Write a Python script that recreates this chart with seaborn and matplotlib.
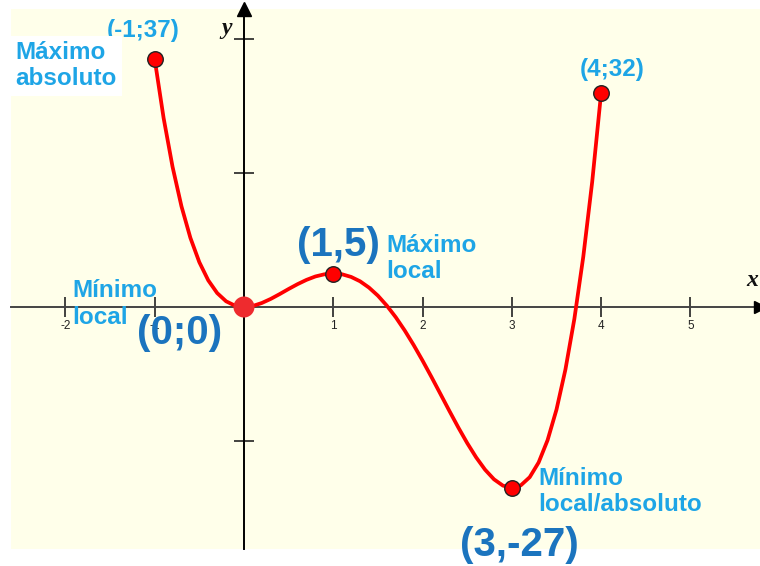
import matplotlib
matplotlib.use("Agg")
import matplotlib.pyplot as plt
import seaborn as sns
import pandas as pd

# f(x) = 3x^4 - 16x^3 + 18x^2 sampled every 0.1 on [-1, 4]
curve_x = [-1.0, -0.9, -0.8, -0.7, -0.6, -0.5, -0.4, -0.3, -0.2, -0.1,
           0.0, 0.1, 0.2, 0.3, 0.4, 0.5, 0.6, 0.7, 0.8, 0.9,
           1.0, 1.1, 1.2, 1.3, 1.4, 1.5, 1.6, 1.7, 1.8, 1.9,
           2.0, 2.1, 2.2, 2.3, 2.4, 2.5, 2.6, 2.7, 2.8, 2.9,
           3.0, 3.1, 3.2, 3.3, 3.4, 3.5, 3.6, 3.7, 3.8, 3.9, 4.0]
curve_y = [37.0, 28.21, 20.94, 15.03, 10.32, 6.69, 3.98, 2.08, 0.85, 0.20,
           0.0, 0.16, 0.60, 1.21, 1.93, 2.69, 3.41, 4.05, 4.56, 4.88,
           5.0, 4.88, 4.49, 3.84, 2.90, 1.69, 0.20, -1.53, -3.50, -5.67,
           -8.0, -10.45, -12.97, -15.50, -17.97, -20.31, -22.44, -24.28, -25.72, -26.66,
           -27.0, -26.62, -25.40, -23.20, -19.88, -15.31, -9.33, -1.78, 7.51, 18.71, 32.0]

# extremes of the function
pt_x = [-1, 1, 3, 4]
pt_y = [37, 5, -27, 32]
origin_x = [0]
origin_y = [0]

tick_vals = [-2, -1, 1, 2, 3, 4, 5]
tick_text = ["-2", "-1", "1", "2", "3", "4", "5"]
ytick_vals = [-20, 20, 40]

LIGHT = "#1EA5E6"
DARK = "#1B74BE"
CREAM = "#FFFFEA"

sns.set_theme(style="white")
plt.rcParams["font.family"] = ["Liberation Sans", "DejaVu Sans"]

fig = plt.figure(figsize=(7.6, 5.66), dpi=100)
fig.patch.set_facecolor("white")
ax = fig.add_axes([11 / 760, 17 / 566, 749 / 760, 540 / 566])
ax.set_facecolor(CREAM)

curve = pd.DataFrame({"x": curve_x, "y": curve_y})
sns.lineplot(data=curve, x="x", y="y", ax=ax, color="#FF0000", lw=2.7,
             sort=False, zorder=3)

pts = pd.DataFrame({"x": pt_x, "y": pt_y})
sns.scatterplot(data=pts, x="x", y="y", ax=ax, color="#FF0000", s=125,
                edgecolor="#222222", linewidth=1.0, zorder=5)
org = pd.DataFrame({"x": origin_x, "y": origin_y})
sns.scatterplot(data=org, x="x", y="y", ax=ax, color="#EE2B2E", s=230,
                edgecolor="none", zorder=5)

ax.set_xlim(-2.609, 5.779)
ax.set_ylim(-36.12, 44.48)
ax.set_xlabel("")
ax.set_ylabel("")

# axes through the origin
for side in ("top", "right"):
    ax.spines[side].set_visible(False)
ax.spines["left"].set_position(("data", 0))
ax.spines["bottom"].set_position(("data", 0))
ax.spines["left"].set_color("black")
ax.spines["left"].set_linewidth(1.4)
ax.spines["bottom"].set_color("#444444")
ax.spines["bottom"].set_linewidth(1.4)

ax.set_xticks(tick_vals)
ax.set_xticklabels(tick_text)
ax.set_yticks(ytick_vals)
ax.set_yticklabels([])
ax.tick_params(axis="x", direction="inout", length=14, width=1.2,
               colors="#222222", labelsize=8.5, pad=2, bottom=True)
ax.tick_params(axis="y", direction="inout", length=14, width=1.2,
               colors="#222222", left=True)
ax.grid(False)

# arrow heads
ax.plot(1, 0, marker=">", color="black", ms=9, transform=ax.get_yaxis_transform(),
        clip_on=False, zorder=6)
ax.plot(0, 1, marker="^", color="black", ms=10, transform=ax.get_xaxis_transform(),
        clip_on=False, zorder=6)

# axis names
ax.text(5.69, 4.0, "x", fontsize=17, fontstyle="italic", fontweight="bold",
        family=["Liberation Serif"], color="#111111", ha="center", va="center")
ax.text(-0.2, 41.6, "y", fontsize=17, fontstyle="italic", fontweight="bold",
        family=["Liberation Serif"], color="#111111", ha="center", va="center")

small = dict(fontsize=17.5, fontweight="bold", color=LIGHT, linespacing=1.17)
big = dict(fontsize=29, fontweight="bold", color=DARK, ha="center", va="center")

ax.text(-1.13, 41.3, "(-1;37)", ha="center", va="center", **small)
ax.text(-2.565, 36.0, "Máximo\nabsoluto", ha="left", va="center",
        bbox=dict(facecolor="white", edgecolor="none", pad=4), **small)
ax.text(4.12, 35.4, "(4;32)", ha="center", va="center", **small)
ax.text(1.59, 7.3, "Máximo\nlocal", ha="left", va="center", **small)
ax.text(-1.926, 2.5, "Mínimo", ha="left", va="center", **small)
ax.text(-1.926, -1.6, "local", ha="left", va="center", **small)
ax.text(3.293, -27.6, "Mínimo\nlocal/absoluto", ha="left", va="center", **small)

ax.text(1.053, 9.25, "(1,5)", **big)
ax.text(-0.717, -3.9, "(0;0)", **big)
ax.text(3.08, -35.5, "(3,-27)", clip_on=False, **big)

fig.savefig("out.png", dpi=100, facecolor="white")
